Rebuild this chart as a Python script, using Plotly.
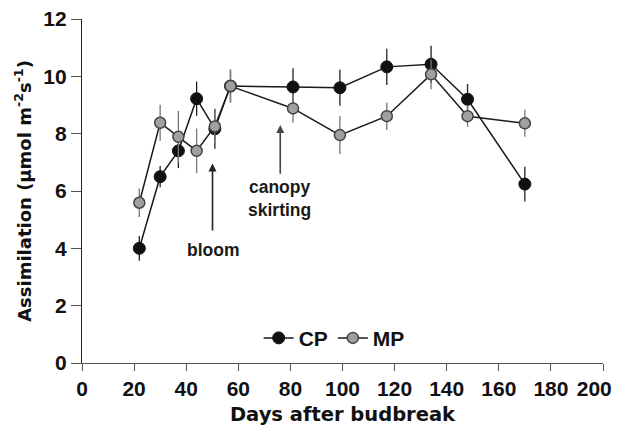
import plotly.graph_objects as go

days = [22, 30, 37, 44, 51, 57, 81, 99, 117, 134, 148, 170]
cp_values = [4.0, 6.5, 7.4, 9.22, 8.17, 9.66, 9.63, 9.6, 10.33, 10.42, 9.2, 6.24]
cp_errors = [0.43, 0.37, 0.6, 0.6, 0.7, 0.57, 0.65, 0.63, 0.63, 0.65, 0.53, 0.61]
mp_values = [5.59, 8.38, 7.89, 7.4, 8.25, 9.66, 8.88, 7.95, 8.61, 10.07, 8.61, 8.36]
mp_errors = [0.5, 0.63, 0.9, 0.78, 0.6, 0.57, 0.5, 0.67, 0.48, 0.52, 0.37, 0.47]

x_ticks = [0, 20, 40, 60, 80, 100, 120, 140, 160, 180, 200]
x_tick_labels = ["0", "20", "40", "60", "80", "100", "120", "140", "160", "180", "200"]
y_ticks = [0, 2, 4, 6, 8, 10, 12]

FONT = "Liberation Sans, Arial, sans-serif"
WIDE = "DejaVu Sans, sans-serif"

# pad the last tick label so it stays inside the visible page
x_tick_text = x_tick_labels[:-1] + [x_tick_labels[-1] + "\u00a0\u00a0\u00a0"]

fig = go.Figure()
fig.add_trace(go.Scatter(
    x=days, y=cp_values, name="CP", mode="lines+markers",
    line=dict(color="#1a1a1a", width=1.5),
    marker=dict(symbol="circle", size=12, color="#111111",
                line=dict(color="#111111", width=1)),
    error_y=dict(type="data", array=cp_errors, visible=True,
                 color="#222222", thickness=1.3, width=0),
))
fig.add_trace(go.Scatter(
    x=days, y=mp_values, name="MP", mode="lines+markers",
    line=dict(color="#1a1a1a", width=1.5),
    marker=dict(symbol="circle", size=11, color="#a0a0a0",
                line=dict(color="#444444", width=1.5)),
    error_y=dict(type="data", array=mp_errors, visible=True,
                 color="#777777", thickness=1.3, width=0),
))

# arrows
fig.add_annotation(x=50.1, y=6.96, ax=50.1, ay=4.57, xref="x", yref="y",
                   axref="x", ayref="y", text="", showarrow=True,
                   arrowhead=2, arrowsize=1, arrowwidth=1.6, arrowcolor="#222222")
fig.add_annotation(x=76.1, y=8.3, ax=76.1, ay=6.55, xref="x", yref="y",
                   axref="x", ayref="y", text="", showarrow=True,
                   arrowhead=2, arrowsize=1, arrowwidth=1.6, arrowcolor="#444444")
fig.add_annotation(x=50.5, y=3.95, xref="x", yref="y", text="<b>bloom</b>",
                   showarrow=False, font=dict(family=FONT, size=17.5, color="#1a1a1a"))
fig.add_annotation(x=76, y=5.75, xref="x", yref="y", text="<b>canopy<br>skirting</b>",
                   showarrow=False, align="center",
                   font=dict(family=FONT, size=17.5, color="#1a1a1a"))

# page has an 8px body margin, so the figure is sized to fit inside the window
fig.update_layout(
    width=605, height=418,
    margin=dict(l=73.5, r=9.5, t=11, b=63.3),
    paper_bgcolor="white", plot_bgcolor="white",
    font=dict(family=FONT, color="#1a1a1a"),
    showlegend=True,
    legend=dict(orientation="h", x=0.484, y=0.072, xanchor="center", yanchor="middle",
                font=dict(family=FONT, size=21, color="#111111", weight="bold"),
                itemwidth=30, bgcolor="rgba(0,0,0,0)", tracegroupgap=0),
    xaxis=dict(range=[0, 200], tickvals=x_ticks, ticktext=x_tick_text,
               showgrid=False, zeroline=False,
               automargin=False, ticklabeloverflow="allow",
               showline=True, linecolor="#555555", linewidth=1.2,
               ticks="outside", ticklen=7, tickcolor="#555555",
               tickfont=dict(family=FONT, size=21, color="#111111", weight="bold"),
               title=dict(text="<b>Days after budbreak</b>", standoff=20,
                          font=dict(family=WIDE, size=19.5, color="#111111"))),
    yaxis=dict(range=[0, 12], tickvals=y_ticks, showgrid=False, zeroline=False,
               automargin=False, ticklabeloverflow="allow",
               showline=True, linecolor="#222222", linewidth=1.2,
               ticks="outside", ticklen=10, tickcolor="#555555",
               tickfont=dict(family=FONT, size=21, color="#111111", weight="bold"),
               title=dict(text="<b>Assimilation (μmol m<sup>-2</sup>s<sup>-1</sup>)</b>",
                          standoff=7,
                          font=dict(family=WIDE, size=18, color="#111111"))),
)

fig.write_html("out.html")
